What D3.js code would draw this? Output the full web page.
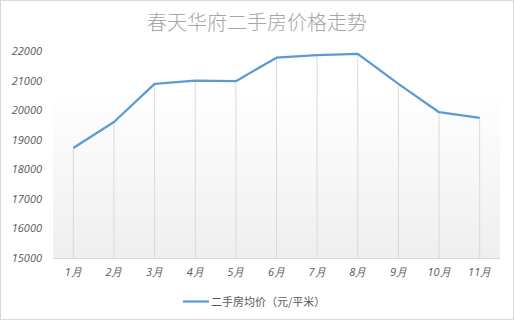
<!DOCTYPE html>
<html><head><meta charset="utf-8">
<script src="https://cdn.jsdelivr.net/npm/d3@7"></script>
<style>
html,body{margin:0;padding:0;background:#fff;}
svg{display:block;}
</style></head>
<body>
<script>
const title = "春天华府二手房价格走势";
const months = ["1月","2月","3月","4月","5月","6月","7月","8月","9月","10月","11月"];
const prices = [18720,19600,20890,21000,20980,21775,21860,21900,20890,19930,19740];
const yTicks = [15000,16000,17000,18000,19000,20000,21000,22000];
const seriesName = "二手房均价（元/平米）";

const W = 515, H = 321;
const svg = d3.select("body").append("svg").attr("width", W).attr("height", H);

// outer border
svg.append("rect").attr("x",0.5).attr("y",0.5).attr("width",W-2).attr("height",H-2)
  .attr("fill","#fff").attr("stroke","#d9d9d9");

const pL = 53, pR = 500, pT = 51, pB = 258;

const defs = svg.append("defs");
const g = defs.append("linearGradient").attr("id","bg").attr("x1",0).attr("y1",0).attr("x2",0).attr("y2",1);
g.append("stop").attr("offset","0%").attr("stop-color","#ffffff");
g.append("stop").attr("offset","10%").attr("stop-color","#ffffff");
g.append("stop").attr("offset","100%").attr("stop-color","#efefef");

svg.append("rect").attr("x",pL).attr("y",pT+20).attr("width",pR-pL).attr("height",pB-pT-20)
  .attr("fill","url(#bg)");

const x = d3.scaleBand().domain(months).range([pL,pR]);
const y = d3.scaleLinear().domain([15000,22000]).range([pB,pT]);

// title
svg.append("text").attr("x",257).attr("y",30).attr("text-anchor","middle")
  .attr("font-family","'Noto Sans CJK SC'").attr("font-weight",300)
  .attr("font-size",20).attr("fill","#a6a6a6").text(title);

// y axis labels
const yAxis = d3.axisLeft(y).tickValues(yTicks).tickSize(0).tickPadding(11).tickFormat(d3.format("d"));
const ya = svg.append("g").attr("transform",`translate(${pL},0)`).call(yAxis);
ya.select(".domain").remove();
ya.selectAll("text").attr("font-family","'Open Sans'").attr("font-style","italic")
  .attr("font-size",11).attr("fill","#595959");

// drop lines
svg.append("g").selectAll("line").data(months).join("line")
  .attr("x1",(d)=>x(d)+x.bandwidth()/2).attr("x2",(d)=>x(d)+x.bandwidth()/2)
  .attr("y1",(d,i)=>y(prices[i])).attr("y2",pB)
  .attr("stroke","#d9d9d9").attr("stroke-width",1);

// x axis
const xAxis = d3.axisBottom(x).tickSize(0).tickPadding(10);
const xa = svg.append("g").attr("transform",`translate(0,${pB})`).call(xAxis);
xa.select(".domain").attr("stroke","#d9d9d9");
xa.selectAll("text").attr("font-family","'Open Sans'").attr("font-style","italic")
  .attr("font-size",11).attr("fill","#595959");

// line
const line = d3.line().x((d,i)=>x(months[i])+x.bandwidth()/2).y(d=>y(d));
svg.append("path").datum(prices).attr("d",line).attr("fill","none")
  .attr("stroke","#5b9bd5").attr("stroke-width",2.25).attr("stroke-linejoin","round");

// legend
svg.append("line").attr("x1",183).attr("x2",209).attr("y1",301.5).attr("y2",301.5)
  .attr("stroke","#5b9bd5").attr("stroke-width",2.25);
svg.append("text").attr("x",211).attr("y",305.5)
  .attr("font-family","'Noto Sans CJK SC'").attr("font-size",11).attr("fill","#595959").text(seriesName);
</script>
</body></html>
